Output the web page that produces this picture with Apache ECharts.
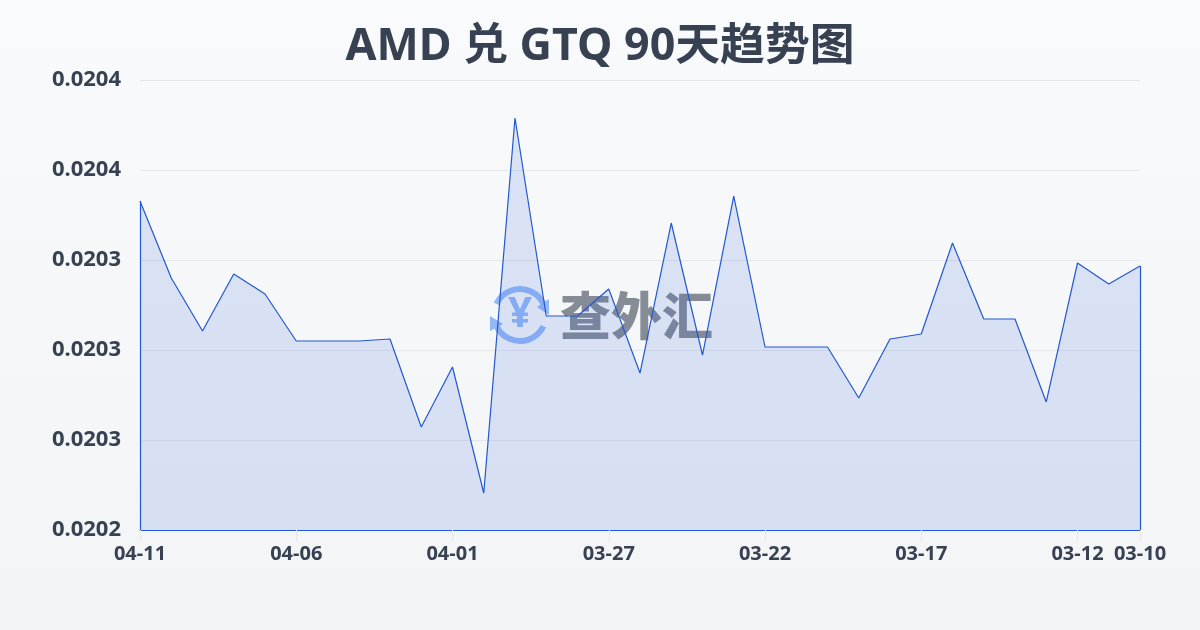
<!DOCTYPE html>
<html><head><meta charset="utf-8">
<style>html,body{margin:0;padding:0;background:#f5f7fa}#c{width:1200px;height:630px}</style>
<script src="https://cdn.jsdelivr.net/npm/echarts@6/dist/echarts.min.js"></script>
</head><body><div id="c"></div>
<script>
const titleText = 'AMD 兑 GTQ 90天趋势图';
const dates = ['04-11','04-10','04-09','04-08','04-07','04-06','04-05','04-04','04-03','04-02','04-01','03-31','03-30','03-29','03-28','03-27','03-26','03-25','03-24','03-23','03-22','03-21','03-20','03-19','03-18','03-17','03-16','03-15','03-14','03-13','03-12','03-11','03-10'];
const rates = [0.02035967,0.02033400,0.02031633,0.02033533,0.02032867,0.02031300,0.02031300,0.02031300,0.02031367,0.02028433,0.02030433,0.02026233,0.02038733,0.02032133,0.02032133,0.02033033,0.02030233,0.02035233,0.02030833,0.02036133,0.02031100,0.02031100,0.02031100,0.02029400,0.02031367,0.02031533,0.02034567,0.02032033,0.02032033,0.02029267,0.02033900,0.02033200,0.02033800];
const shownDates = ['04-11','04-06','04-01','03-27','03-22','03-17','03-12','03-10'];
const yTickLabels = ['0.0202','0.0203','0.0203','0.0203','0.0204','0.0204'];
const yMin = 0.02025, yMax = 0.0204, yStep = 0.00003;
const font = '"Noto Sans","Noto Sans CJK SC",sans-serif';
const cjkFont = '"Noto Sans CJK SC",sans-serif';
const lineColor = '#2358cf';
const wmIcon = '#93b8f8', wmText = '#868c95';
const chart = echarts.init(document.getElementById('c'), null, {renderer:'canvas'});
chart.setOption({
  animation:false,
  backgroundColor:{type:'linear',x:0,y:0,x2:0,y2:1,colorStops:[{offset:0,color:'#f8fafc'},{offset:1,color:'#f3f4f6'}]},
  title:{text:titleText,left:'center',top:20,textStyle:{fontFamily:font,fontSize:44.8,fontWeight:'bold',color:'#374151'}},
  grid:{left:140,right:60,top:80,bottom:100},
  graphic:{elements:[
    {type:'group',z:0,silent:true,children:[
      {type:'arc',shape:{cx:520,cy:315,r:26,startAngle:-2.7,endAngle:-0.25},style:{stroke:wmIcon,lineWidth:6,fill:null}},
      {type:'arc',shape:{cx:520,cy:315,r:26,startAngle:0.45,endAngle:2.9},style:{stroke:wmIcon,lineWidth:6,fill:null}},
      {type:'polygon',shape:{points:[[537,307],[549,299],[549,315]]},style:{fill:wmIcon}},
      {type:'polygon',shape:{points:[[490,316],[503,324],[490,331]]},style:{fill:wmIcon}},
      {type:'text',x:520,y:315,style:{text:'¥',fontFamily:font,fontSize:42,fontWeight:'bold',fill:wmIcon,align:'center',verticalAlign:'middle'}},
      {type:'text',x:560,y:316,style:{text:'查外汇',fontFamily:cjkFont,fontSize:51,fontWeight:900,fill:wmText,verticalAlign:'middle'}}
    ]}
  ]},
  xAxis:{type:'category',boundaryGap:false,data:dates,
    axisLine:{show:true,lineStyle:{color:lineColor,width:1}},
    axisTick:{show:true,alignWithLabel:true,length:11,lineStyle:{color:'#e5e7eb'},interval:(i,v)=>shownDates.includes(v)},
    axisLabel:{interval:(i,v)=>shownDates.includes(v),hideOverlap:false,showMinLabel:true,showMaxLabel:true,margin:14,fontFamily:font,fontSize:20,fontWeight:'bold',color:'#374151'},
    splitLine:{show:false}},
  yAxis:{type:'value',min:yMin,max:yMax,interval:yStep,
    axisLine:{show:false},axisTick:{show:false},
    axisLabel:{margin:19,fontFamily:font,fontSize:22,fontWeight:'bold',color:'#374151',formatter:(v,i)=>yTickLabels[i]},
    splitLine:{lineStyle:{color:'#e5e7eb',width:1}}},
  series:[{type:'line',data:rates,symbol:'none',smooth:false,z:3,
    lineStyle:{color:lineColor,width:1.2},
    itemStyle:{color:lineColor},
    areaStyle:{color:'#2a5fd8',opacity:0.14,origin:'start'},
    markLine:{silent:true,symbol:'none',label:{show:false},lineStyle:{color:lineColor,width:1.2,type:'solid'},
      data:[
        [{xAxis:dates[0],yAxis:yMin},{xAxis:dates[0],yAxis:rates[0]}],
        [{xAxis:dates[dates.length-1],yAxis:yMin},{xAxis:dates[dates.length-1],yAxis:rates[rates.length-1]}]
      ]}}]
});
</script></body></html>
